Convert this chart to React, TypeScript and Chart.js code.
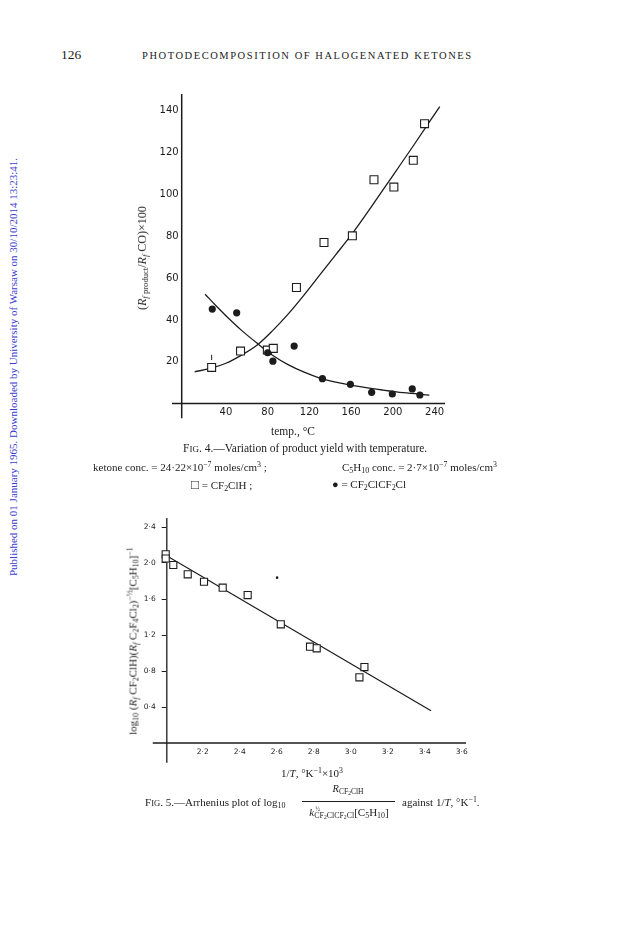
import React, { useEffect, useRef } from 'react';
import { Chart, registerables } from 'chart.js';

Chart.register(...registerables);

// ---------- Fig. 4 data ----------
const fig4XTicks = [40, 80, 120, 160, 200, 240];
const fig4YTicks = [20, 40, 60, 80, 100, 120, 140];
const clhTemp = [26.3, 54, 79.7, 85.4, 107.6, 134, 161.2, 181.9, 201, 219.6, 230.4];
const clhYield = [17.3, 25.1, 25.6, 26.4, 55.5, 77, 80.2, 107, 103.5, 116.3, 133.8];
const c2Temp = [26.9, 50.3, 80, 85, 105.4, 132.5, 159.3, 179.7, 199.5, 218.6, 225.9];
const c2Yield = [45.2, 43.4, 24.3, 20.3, 27.5, 11.9, 9.2, 5.4, 4.6, 7, 4.1];
const clhFitTemp = [10, 25, 40, 55, 70, 85, 100, 115, 130, 145, 160, 180, 200, 220, 245];
const clhFitYield = [15.2, 16.8, 19.3, 23.2, 28, 35, 43, 52, 61.5, 71, 80.5, 94.5, 109, 123.5, 142];
const c2FitTemp = [20, 30, 40, 55, 70, 85, 100, 115, 130, 150, 170, 190, 210, 235];
const c2FitYield = [52.3, 47, 42, 35, 28.8, 23, 18.5, 15, 12.2, 9.8, 8, 6.5, 5.2, 4.1];
const clhErrTemp = [26.3, 26.3];
const clhErrYield = [20.8, 23.3];

// ---------- Fig. 5 data ----------
const fig5XTicks = [2.2, 2.4, 2.6, 2.8, 3.0, 3.2, 3.4, 3.6];
const fig5YTicks = [0.4, 0.8, 1.2, 1.6, 2.0, 2.4];
const invT = [2.0, 2.0, 2.041, 2.119, 2.207, 2.308, 2.443, 2.622, 2.78, 2.816, 3.047, 3.074];
const logRatio = [2.097, 2.05, 1.978, 1.874, 1.792, 1.726, 1.644, 1.319, 1.07, 1.052, 0.73, 0.844];
const fitInvT = [2.005, 3.434];
const fitLog = [2.081, 0.359];
const strayInvT = [2.602];
const strayLog = [1.837];

const INK = '#1c1c1c';

const pts = (xs: number[], ys: number[]) => xs.map((x, i) => ({ x, y: ys[i] }));

function axisPlugin(spec: {
  xAxisAt: number; xFrom: number; xTo: number;
  yAxisAt: number; yFrom: number; yTo: number; width: number;
}) {
  return {
    id: 'axisLines',
    beforeDatasetsDraw(chart: any) {
      const xs = chart.scales.x;
      const ys = chart.scales.y;
      const ctx = chart.ctx;
      ctx.save();
      ctx.strokeStyle = INK;
      ctx.lineWidth = spec.width;
      ctx.beginPath();
      ctx.moveTo(xs.getPixelForValue(spec.xFrom), ys.getPixelForValue(spec.xAxisAt));
      ctx.lineTo(xs.getPixelForValue(spec.xTo), ys.getPixelForValue(spec.xAxisAt));
      ctx.moveTo(xs.getPixelForValue(spec.yAxisAt), ys.getPixelForValue(spec.yFrom));
      ctx.lineTo(xs.getPixelForValue(spec.yAxisAt), ys.getPixelForValue(spec.yTo));
      ctx.stroke();
      ctx.restore();
    },
  };
}

function fig4Config(): any {
  const tickFont = { family: '"DejaVu Sans", sans-serif', size: 10 };
  return {
    type: 'scatter',
    data: {
      datasets: [
        { data: pts(c2Temp, c2Yield), pointStyle: 'circle', pointRadius: 3.6, backgroundColor: INK, borderColor: INK, borderWidth: 0, clip: false },
        { data: pts(clhTemp, clhYield), pointStyle: 'rect', pointRadius: 5.6, backgroundColor: '#fff', borderColor: INK, borderWidth: 1.1, clip: false },
        { data: pts(clhErrTemp, clhErrYield), showLine: true, pointRadius: 0, borderColor: INK, borderWidth: 1, clip: false },
        { data: pts(clhFitTemp, clhFitYield), showLine: true, pointRadius: 0, borderColor: INK, borderWidth: 1.3, cubicInterpolationMode: 'monotone', clip: false },
        { data: pts(c2FitTemp, c2FitYield), showLine: true, pointRadius: 0, borderColor: INK, borderWidth: 1.3, cubicInterpolationMode: 'monotone', clip: false },
      ],
    },
    options: {
      responsive: false,
      animation: false,
      devicePixelRatio: 1,
      layout: { padding: { left: 0, top: 8.5, right: 35, bottom: 0 } },
      plugins: { legend: { display: false }, tooltip: { enabled: false } },
      scales: {
        x: {
          type: 'linear', min: -2.4, max: 250,
          afterFit: (s: any) => { s.height = 26.4; },
          afterBuildTicks: (s: any) => { s.ticks = fig4XTicks.map((v) => ({ value: v })); },
          ticks: { font: tickFont, color: INK, padding: 3, maxRotation: 0, callback: (v: any) => String(v) },
          grid: { display: false, drawTicks: false },
          border: { display: false },
        },
        y: {
          type: 'linear', min: 0, max: 148,
          afterFit: (s: any) => { s.width = 81.7; },
          afterBuildTicks: (s: any) => { s.ticks = fig4YTicks.map((v) => ({ value: v })); },
          ticks: { font: tickFont, color: INK, padding: 3, callback: (v: any) => String(v) },
          grid: { display: false, drawTicks: false },
          border: { display: false },
        },
      },
    },
    plugins: [axisPlugin({ xAxisAt: 0, xFrom: -11.7, xTo: 250, yAxisAt: -2.4, yFrom: -7, yTo: 148, width: 1.5 })],
  };
}

function fig5Config(): any {
  const tickFont = { family: '"DejaVu Sans", sans-serif', size: 7.5 };
  const fmt = (v: any) => Number(v).toFixed(1).replace('.', '·');
  return {
    type: 'scatter',
    data: {
      datasets: [
        { data: pts(invT, logRatio), pointStyle: 'rect', pointRadius: 5, backgroundColor: '#fff', borderColor: INK, borderWidth: 1.1, clip: false },
        { data: pts(strayInvT, strayLog), pointStyle: 'circle', pointRadius: 1.3, backgroundColor: INK, borderWidth: 0, clip: false },
        { data: pts(fitInvT, fitLog), showLine: true, pointRadius: 0, borderColor: INK, borderWidth: 1.2, clip: false },
      ],
    },
    options: {
      responsive: false,
      animation: false,
      devicePixelRatio: 1,
      layout: { padding: { left: 0, top: 13, right: 24, bottom: 0 } },
      plugins: { legend: { display: false }, tooltip: { enabled: false } },
      scales: {
        x: {
          type: 'linear', min: 2.0, max: 3.623,
          afterFit: (s: any) => { s.height = 32; },
          afterBuildTicks: (s: any) => { s.ticks = fig5XTicks.map((v) => ({ value: v })); },
          ticks: { font: tickFont, color: INK, padding: 4.5, maxRotation: 0, callback: fmt },
          grid: { display: false, drawTicks: false },
          border: { display: false },
        },
        y: {
          type: 'linear', min: 0, max: 2.5,
          afterFit: (s: any) => { s.width = 75.7; },
          afterBuildTicks: (s: any) => { s.ticks = fig5YTicks.map((v) => ({ value: v })); },
          ticks: { font: tickFont, color: INK, padding: 6, callback: fmt },
          grid: { display: true, drawOnChartArea: false, drawTicks: true, tickLength: 4, color: INK, lineWidth: 1 },
          border: { display: false },
        },
      },
    },
    plugins: [axisPlugin({ xAxisAt: 0, xFrom: 1.93, xTo: 3.623, yAxisAt: 2.006, yFrom: -0.22, yTo: 2.5, width: 1.3 })],
  };
}

function ChartCanvas(props: { left: number; top: number; width: number; height: number; make: () => any }) {
  const ref = useRef<HTMLCanvasElement>(null);
  useEffect(() => {
    const chart = new Chart(ref.current as HTMLCanvasElement, props.make());
    return () => chart.destroy();
  }, []);
  return (
    <canvas
      ref={ref}
      width={props.width}
      height={props.height}
      style={{ position: 'absolute', left: props.left, top: props.top, width: props.width, height: props.height }}
    />
  );
}

const subS: React.CSSProperties = { fontSize: '0.72em', verticalAlign: '-0.25em', lineHeight: 0 };
const supS: React.CSSProperties = { fontSize: '0.72em', verticalAlign: '0.45em', lineHeight: 0 };
const Sub = ({ children }: any) => <span style={subS}>{children}</span>;
const Sup = ({ children }: any) => <span style={supS}>{children}</span>;
const SC = ({ children }: any) => <span style={{ fontSize: '0.78em' }}>{children}</span>;

function Txt(props: { x: number; y: number; size?: number; center?: boolean; style?: React.CSSProperties; children: any }) {
  const size = props.size ?? 11;
  return (
    <div
      style={{
        position: 'absolute',
        left: props.x,
        top: props.y - size / 2,
        fontSize: size,
        lineHeight: `${size}px`,
        whiteSpace: 'nowrap',
        transform: props.center ? 'translateX(-50%)' : undefined,
        ...props.style,
      }}
    >
      {props.children}
    </div>
  );
}

function VTxt(props: { cx: number; cy: number; size: number; style?: React.CSSProperties; children: any }) {
  return (
    <div
      style={{
        position: 'absolute',
        left: props.cx,
        top: props.cy,
        fontSize: props.size,
        lineHeight: `${props.size}px`,
        whiteSpace: 'nowrap',
        transform: 'translate(-50%, -50%) rotate(-90deg)',
        ...props.style,
      }}
    >
      {props.children}
    </div>
  );
}

export default function App() {
  return (
    <div
      style={{
        position: 'absolute', left: 0, top: 0, width: 624, height: 936, background: '#fff',
        fontFamily: '"Liberation Serif", "Times New Roman", serif', color: INK, overflow: 'hidden',
      }}
    >
      <Txt x={61} y={55} size={13.5}>126</Txt>
      <Txt x={142} y={56} size={10.5} style={{ letterSpacing: '1.55px' }}>PHOTODECOMPOSITION OF HALOGENATED KETONES</Txt>

      <VTxt cx={13} cy={367} size={11} style={{ color: '#3b3bcf' }}>
        Published on 01 January 1965. Downloaded by University of Warsaw on 30/10/2014 13:23:41.
      </VTxt>

      <ChartCanvas left={100} top={85} width={380} height={345} make={fig4Config} />
      <VTxt cx={142} cy={258} size={12}>
        (<i>R</i><Sub><i>f</i> product</Sub>/<i>R</i><Sub><i>f</i></Sub> CO)×100
      </VTxt>
      <Txt x={293} y={432} size={11.5} center>temp., °C</Txt>
      <Txt x={183} y={449} size={11.5}>F<SC>IG</SC>. 4.—Variation of product yield with temperature.</Txt>
      <Txt x={93} y={467} size={11}>ketone conc. = 24·22×10<Sup>−7</Sup> moles/cm<Sup>3</Sup> ;</Txt>
      <Txt x={342} y={467} size={11}>C<Sub>5</Sub>H<Sub>10</Sub> conc. = 2·7×10<Sup>−7</Sup> moles/cm<Sup>3</Sup></Txt>
      <Txt x={191} y={484} size={11}><span style={{ fontSize: '1.2em' }}>□</span> = CF<Sub>2</Sub>ClH ;</Txt>
      <Txt x={332} y={484} size={11}>● = CF<Sub>2</Sub>ClCF<Sub>2</Sub>Cl</Txt>

      <ChartCanvas left={90} top={505} width={400} height={270} make={fig5Config} />
      <VTxt cx={133} cy={641} size={11}>
        log<Sub>10</Sub> (<i>R<Sub>f</Sub></i> CF<Sub>2</Sub>ClH)(<i>R<Sub>f</Sub></i> C<Sub>2</Sub>F<Sub>4</Sub>Cl<Sub>2</Sub>)<Sup>−½</Sup>[C<Sub>5</Sub>H<Sub>10</Sub>]<Sup>−1</Sup>
      </VTxt>
      <Txt x={312} y={773} size={11} center>1/<i>T</i>, °K<Sup>−1</Sup>×10<Sup>3</Sup></Txt>
      <Txt x={145} y={802} size={11}>F<SC>IG</SC>. 5.—Arrhenius plot of log<Sub>10</Sub></Txt>
      <Txt x={348} y={789} size={10.5} center><i>R</i><Sub>CF<Sub>2</Sub>ClH</Sub></Txt>
      <div style={{ position: 'absolute', left: 302, top: 801, width: 93, height: 0, borderTop: `1px solid ${INK}` }} />
      <Txt x={349} y={812} size={11} center>
        <i>k</i>
        <span style={{ position: 'relative', display: 'inline-block', fontSize: '0.72em' }}>
          <span style={{ position: 'absolute', left: 1, top: '-0.75em', fontSize: '0.8em' }}>½</span>
          <span style={{ position: 'relative', top: '0.3em' }}>CF<Sub>2</Sub>ClCF<Sub>2</Sub>Cl</span>
        </span>
        [C<Sub>5</Sub>H<Sub>10</Sub>]
      </Txt>
      <Txt x={402} y={802} size={11}>against 1/<i>T</i>, °K<Sup>−1</Sup>.</Txt>
    </div>
  );
}
